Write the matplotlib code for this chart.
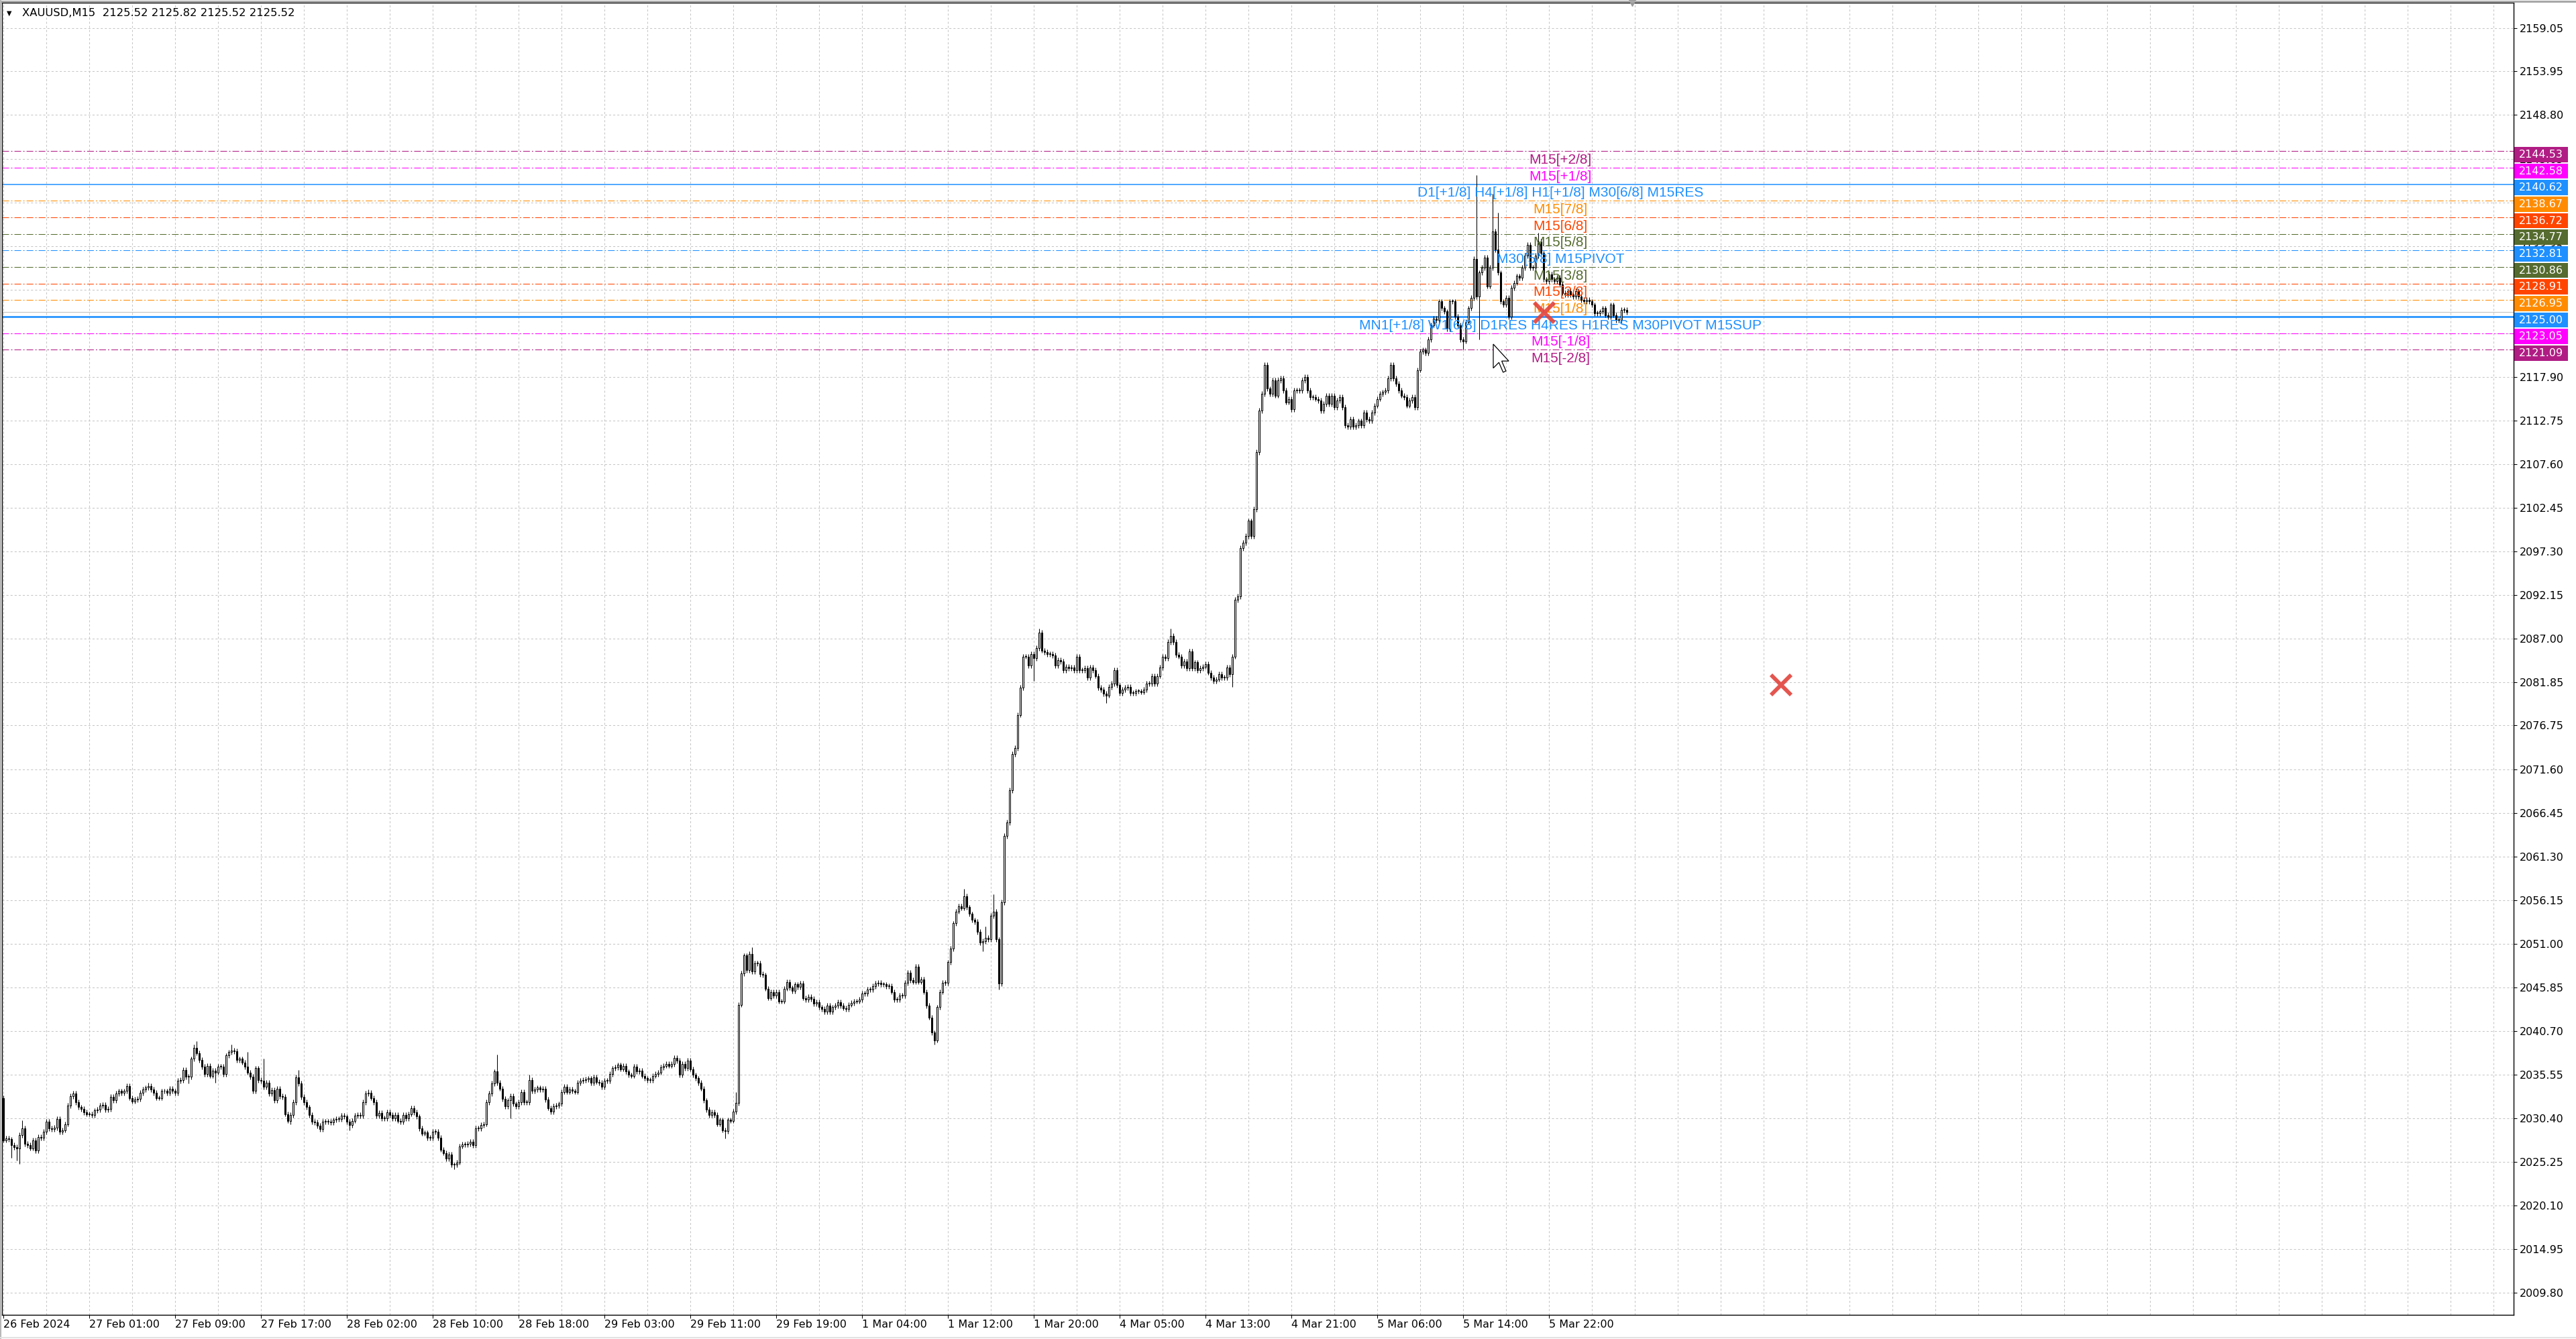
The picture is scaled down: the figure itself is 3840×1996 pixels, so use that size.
import numpy as np
import matplotlib
matplotlib.use('Agg')
import matplotlib.pyplot as plt
from matplotlib.patches import Rectangle, Polygon
from matplotlib.lines import Line2D
from matplotlib.transforms import blended_transform_factory

plt.rcParams['lines.scale_dashes'] = False

W, H = 3840, 1996

# XAUUSD M15 closes, one per bar (26 Feb 17:00 -> 6 Mar)
first_open = 2032.8
closes = [
    2027.8, 2028.0, 2027.9, 2027.2, 2027.0, 2026.8, 2028.4, 2029.2, 2027.4, 2027.2,
    2026.85, 2027.8, 2026.6, 2028.2, 2028.1, 2028.8, 2030.0, 2029.2, 2029.1, 2029.3,
    2030.3, 2028.8, 2029.0, 2029.7, 2031.9, 2033.0, 2033.3, 2032.3, 2031.7, 2031.5,
    2031.1, 2030.9, 2030.9, 2030.8, 2031.3, 2031.4, 2031.9, 2032.0, 2031.4, 2031.5,
    2032.9, 2032.5, 2033.3, 2033.6, 2033.4, 2033.6, 2034.2, 2032.8, 2032.4, 2032.6,
    2032.7, 2033.4, 2033.8, 2034.0, 2034.2, 2033.8, 2033.4, 2032.8, 2032.8, 2033.6,
    2033.6, 2033.4, 2033.9, 2033.6, 2033.4, 2034.8, 2034.9, 2036.1, 2035.3, 2035.3,
    2037.4, 2038.7, 2038.1, 2037.3, 2036.5, 2035.6, 2036.6, 2035.4, 2036.0, 2035.8,
    2036.5, 2036.5, 2035.6, 2037.8, 2038.2, 2038.4, 2038.3, 2037.3, 2037.4, 2037.0,
    2036.5, 2035.8, 2035.3, 2033.6, 2036.3, 2034.9, 2034.8, 2034.1, 2034.6, 2033.3,
    2033.7, 2032.5, 2033.9, 2033.0, 2032.9, 2030.9, 2030.1, 2030.8, 2032.3, 2035.2,
    2034.5, 2032.9, 2032.3, 2031.7, 2030.8, 2030.0, 2029.9, 2029.5, 2029.1, 2030.0,
    2030.0, 2030.0, 2029.9, 2030.2, 2030.3, 2030.3, 2030.7, 2030.6, 2030.0, 2029.6,
    2030.1, 2030.7, 2030.8, 2030.7, 2032.3, 2033.3, 2033.4, 2032.8, 2032.3, 2030.7,
    2031.0, 2030.4, 2030.4, 2031.1, 2030.8, 2030.4, 2030.8, 2030.1, 2030.0, 2030.8,
    2030.4, 2030.9, 2031.6, 2031.1,
    2030.6, 2029.2, 2028.6, 2028.7, 2028.1, 2028.1, 2028.8, 2028.8, 2028.1, 2026.7,
    2026.3, 2025.6, 2026.1, 2024.9, 2024.9, 2025.2, 2027.1, 2027.3, 2027.3, 2027.4,
    2027.6, 2027.2, 2029.2, 2029.2, 2029.6, 2029.7, 2032.3, 2033.3, 2034.5, 2035.9,
    2034.6, 2033.9, 2032.7, 2031.8, 2032.5, 2033.0, 2032.1, 2031.8, 2032.3, 2033.5,
    2032.3, 2032.3, 2034.9, 2033.6, 2033.8, 2034.0, 2033.8, 2033.9, 2032.6, 2031.6,
    2031.2, 2031.8, 2031.9, 2032.1, 2033.5, 2034.1, 2033.5, 2033.8, 2033.6, 2033.5,
    2034.6, 2034.8, 2034.9, 2035.0, 2035.1, 2034.6, 2035.2, 2034.7, 2034.6, 2034.1,
    2034.8, 2034.8, 2035.6, 2036.3, 2036.4,
    2036.7, 2036.2, 2036.6, 2035.9, 2035.5, 2035.4, 2036.5, 2035.9, 2036.0, 2035.4,
    2035.1, 2034.9, 2034.9, 2035.4, 2035.6, 2035.8, 2036.4, 2036.6, 2036.8, 2036.6,
    2036.8, 2037.5, 2037.2, 2035.5, 2036.8, 2036.3, 2037.2, 2036.2, 2035.5, 2035.1,
    2034.6, 2033.9, 2032.5, 2031.4, 2030.8, 2031.1, 2030.8, 2029.7, 2030.2, 2029.0,
    2028.9, 2030.2, 2030.1, 2031.2, 2032.2, 2043.8, 2047.5, 2049.6, 2047.9, 2049.8,
    2047.7, 2048.7, 2048.7, 2047.4, 2047.3, 2045.7, 2044.6, 2045.3, 2044.9, 2045.3,
    2044.2, 2044.2, 2045.7, 2046.5, 2045.8, 2045.4, 2046.2, 2045.9, 2046.3, 2044.6,
    2044.4, 2044.7, 2044.5, 2043.9, 2044.1,
    2043.5, 2043.3, 2043.0, 2043.7, 2043.0, 2043.5, 2043.7, 2044.1, 2043.7, 2043.4,
    2043.3, 2043.8, 2044.0, 2044.2, 2044.2, 2044.4, 2045.1, 2045.1, 2045.6, 2045.6,
    2046.0, 2046.3, 2046.4, 2046.2, 2046.2, 2046.0, 2046.0, 2045.3, 2044.4, 2044.4,
    2044.9, 2044.9, 2046.4, 2047.6, 2046.7, 2046.5, 2048.3, 2046.5, 2046.8, 2045.3,
    2043.7, 2042.3, 2040.5, 2039.6, 2043.5, 2045.3, 2046.4, 2046.4, 2048.8, 2050.4,
    2053.4, 2054.8, 2055.4, 2055.2, 2056.6, 2055.3, 2054.5, 2053.8, 2053.6, 2052.4,
    2051.1, 2051.3, 2051.7, 2051.5, 2054.3, 2054.8, 2051.5, 2046.3, 2055.9, 2063.7,
    2065.3, 2069.1, 2073.4, 2074.1, 2078.0, 2081.2, 2084.9, 2084.9, 2083.8, 2085.2,
    2084.7, 2085.9, 2087.7, 2085.6, 2085.4, 2085.2, 2085.2, 2085.0, 2083.8, 2084.5,
    2084.3, 2083.3, 2083.7, 2083.5, 2083.6, 2083.3, 2084.9, 2083.3, 2083.3, 2083.5,
    2082.4, 2083.6, 2083.3, 2082.6, 2081.2, 2081.0, 2080.5, 2080.3, 2081.3, 2081.7,
    2083.3, 2081.5, 2080.6, 2081.0, 2081.2, 2081.3, 2080.6, 2080.6, 2080.8, 2080.8,
    2080.7, 2081.0, 2081.7, 2081.7, 2082.6, 2081.7, 2082.6, 2083.6, 2084.9, 2084.7,
    2086.6, 2087.3, 2086.6, 2085.1, 2084.9, 2083.8, 2084.3, 2083.5, 2085.5, 2083.5,
    2084.2, 2083.3, 2083.5, 2083.7, 2084.0, 2083.0, 2082.4, 2082.0, 2082.2, 2082.8,
    2082.4, 2082.4, 2083.6, 2082.8, 2084.9,
    2091.6, 2092.0, 2097.7, 2098.3, 2099.1, 2100.9, 2099.1, 2102.3, 2109.0, 2113.9,
    2115.9, 2119.3, 2116.5, 2115.9, 2117.5, 2115.7, 2117.5, 2117.7, 2116.3, 2114.9,
    2115.3, 2114.1, 2116.3, 2116.3,
    2116.3, 2117.5, 2117.9, 2116.3, 2115.5, 2115.5, 2115.3, 2115.1, 2113.9, 2114.7,
    2115.7, 2114.7, 2115.7, 2114.3, 2115.1, 2115.5, 2114.3, 2112.2, 2112.0, 2112.9,
    2112.0, 2112.2,
    2112.7, 2112.2, 2113.7, 2112.9, 2112.7, 2113.7, 2114.5, 2115.3, 2115.9, 2116.1,
    2116.3, 2117.7, 2119.3, 2117.7, 2117.1, 2116.3, 2115.7, 2115.5, 2114.5, 2115.1,
    2115.5, 2114.3, 2118.7, 2120.9, 2121.1, 2120.7, 2122.3, 2124.0, 2124.8, 2124.6,
    2126.8, 2126.0, 2125.6, 2123.6, 2126.8, 2126.8, 2125.0, 2124.0, 2122.3, 2122.1,
    2124.4, 2126.0, 2127.2, 2131.8, 2127.4, 2130.2, 2130.8, 2132.0, 2128.6, 2130.8,
    2135.1, 2132.9, 2130.2, 2126.8, 2126.4, 2127.2, 2125.0, 2128.4, 2129.0, 2129.8,
    2129.6, 2130.8, 2132.2, 2133.5, 2130.8, 2130.8, 2132.2, 2133.9, 2132.5, 2129.4,
    2129.2, 2130.0, 2129.4, 2129.2, 2129.6, 2128.8, 2127.8, 2127.6, 2128.0, 2127.6,
    2127.4, 2128.0, 2127.4, 2127.0, 2126.8, 2127.0, 2126.8, 2126.4, 2125.4, 2125.4,
    2125.6, 2126.0, 2125.2, 2125.0, 2126.4, 2125.2, 2124.6, 2124.6, 2125.8, 2125.8,
    2125.52,
]

# bars with long wicks (bar index -> price)
spike_high = {7: 2030.15, 26: 2033.6, 46: 2034.5, 54: 2034.6, 71: 2039.1, 72: 2039.5,
              85: 2039.1, 91: 2038.2, 97: 2037.4, 110: 2036.1, 136: 2033.8, 184: 2037.9,
              196: 2035.5, 273: 2033.5, 279: 2050.6, 358: 2057.5, 366: 2053.0,
              369: 2056.8, 386: 2088.2, 435: 2088.2, 549: 2141.7, 555: 2139.5,
              557: 2137.3, 572: 2134.9, 605: 2125.82}
spike_low = {3: 2025.7, 5: 2025.4, 6: 2025.0, 69: 2034.5, 79: 2034.6, 107: 2029.7,
             118: 2028.8, 129: 2029.0, 168: 2024.4, 189: 2030.4, 269: 2028.0,
             347: 2039.1, 365: 2050.1, 371: 2045.6, 384: 2082.0, 411: 2079.4,
             458: 2081.3, 468: 2112.7, 544: 2121.1, 550: 2122.3}

time_labels = ['26 Feb 2024', '27 Feb 01:00', '27 Feb 09:00', '27 Feb 17:00',
               '28 Feb 02:00', '28 Feb 10:00', '28 Feb 18:00', '29 Feb 03:00',
               '29 Feb 11:00', '29 Feb 19:00', '1 Mar 04:00', '1 Mar 12:00',
               '1 Mar 20:00', '4 Mar 05:00', '4 Mar 13:00', '4 Mar 21:00',
               '5 Mar 06:00', '5 Mar 14:00', '5 Mar 22:00']

price_ticks = [2159.05, 2153.95, 2148.80, 2143.65, 2138.50, 2133.35, 2128.20, 2123.05,
               2117.90, 2112.75, 2107.60, 2102.45, 2097.30, 2092.15, 2087.00, 2081.85,
               2076.75, 2071.60, 2066.45, 2061.30, 2056.15, 2051.00, 2045.85, 2040.70,
               2035.55, 2030.40, 2025.25, 2020.10, 2014.95, 2009.80]

# Murrey math levels drawn by the indicator
levels = [2144.53, 2142.58, 2140.62, 2138.67, 2136.72, 2134.77, 2132.81,
          2130.86, 2128.91, 2126.95, 2125.00, 2123.05, 2121.09]
level_texts = ['M15[+2/8]', 'M15[+1/8]', 'D1[+1/8] H4[+1/8] H1[+1/8] M30[6/8] M15RES',
               'M15[7/8]', 'M15[6/8]', 'M15[5/8]', 'M30[5/8] M15PIVOT', 'M15[3/8]',
               'M15[2/8]', 'M15[1/8]', 'MN1[+1/8] W1[6/8] D1RES H4RES H1RES M30PIVOT M15SUP',
               'M15[-1/8]', 'M15[-2/8]']

# red close markers
cross_bars = [574.3, 662.5]
cross_prices = [2125.48, 2081.53]

# colours / styles
PURPLE, MAGENTA, BLUE = '#B01C84', '#FF00FF', '#1E90FF'
ORANGE, ORED, OLIVE = '#FF8C00', '#FF4500', '#556B2F'
level_colors = [PURPLE, MAGENTA, BLUE, ORANGE, ORED, OLIVE, BLUE,
                OLIVE, ORED, ORANGE, BLUE, MAGENTA, PURPLE]
solid_width = {2: 1.1, 10: 1.9}

fig = plt.figure(figsize=(W / 100, H / 100), dpi=100)
fig.patch.set_facecolor('white')
ax = fig.add_axes([3 / W, 36 / H, 3744 / W, 1956 / H])

c = np.array(closes)
o = np.r_[first_open, c[:-1]]
x = np.arange(len(c))
hi = np.maximum(o, c) + 0.3
lo = np.minimum(o, c) - 0.3
for k, v in spike_high.items():
    hi[k] = max(hi[k], v)
for k, v in spike_low.items():
    lo[k] = min(lo[k], v)

ax.vlines(x, lo, hi, color='black', lw=0.75, zorder=3)
body_h = np.maximum(np.abs(c - o), 0.07)
body_col = np.where(c >= o, 'white', 'black')
ax.bar(x, body_h, bottom=np.minimum(o, c), width=0.5, color=body_col,
       edgecolor='black', linewidth=0.75, zorder=4)

# bid line
ax.axhline(closes[-1], color='#C0C0C0', lw=0.75, zorder=2)

blend = blended_transform_factory(fig.transFigure, ax.transData)
label_x = 580.25
for i, (lv, txt, col) in enumerate(zip(levels, level_texts, level_colors)):
    if i in solid_width:
        ax.axhline(lv, color=col, lw=solid_width[i], zorder=2)
    else:
        ax.axhline(lv, color=col, lw=0.75, dashes=(7.2, 2.2, 1.4, 2.2), zorder=2)
    ax.annotate(txt, (label_x, lv), xytext=(0, -2.5), textcoords='offset points',
                ha='center', va='top', color=col, fontsize=15,
                family='Liberation Sans', zorder=6)
    # price tag sits a few pixels below its line, as in the terminal
    yc = lv - 0.4
    ax.add_patch(Rectangle((3748 / W, yc - 0.9), 80 / W, 1.8, transform=blend,
                           facecolor=col, edgecolor='none', clip_on=False, zorder=7))
    ax.text(3788 / W, yc, f'{lv:.2f}', transform=blend, ha='center', va='center',
            color='white', fontsize=11.5, clip_on=False, zorder=8)

ax.plot(cross_bars, cross_prices, ls='none', marker='x', ms=21, mew=4.2,
        color='#E2423C', alpha=0.9, zorder=9)

# axes, ticks, grid
ax.set_xlim(-0.5, 935.5)
ax.set_ylim(2007.19, 2162.06)
ax.yaxis.tick_right()
ax.set_yticks(price_ticks)
ax.set_yticklabels([f'{v:.2f}' for v in price_ticks])
ax.set_xticks(np.arange(len(time_labels)) * 32)
ax.set_xticklabels(time_labels, ha='left')
ax.set_xticks(np.arange(0, 936, 16), minor=True)
ax.tick_params(axis='y', direction='out', length=3.6, width=0.75, pad=2.5,
               labelsize=11.5, colors='black')
ax.tick_params(axis='x', which='major', direction='out', length=3.6, width=0.75,
               pad=1.5, labelsize=11.5)
ax.tick_params(axis='x', which='minor', length=0)
ax.set_axisbelow(True)
ax.grid(True, which='both', axis='x', color='#C6C6C6', lw=0.75, linestyle=(0, (2.2, 2.2)))
ax.grid(True, which='major', axis='y', color='#C6C6C6', lw=0.75, linestyle=(0, (2.2, 2.2)))
for s in ax.spines.values():
    s.set_linewidth(1.0)
    s.set_color('black')

# chart shift marker on the top edge
ax.plot([607], [1.0], transform=blended_transform_factory(ax.transData, ax.transAxes),
        marker='v', ms=7, color='#9A9A9A', clip_on=False, zorder=10)

# mouse cursor
cur = np.array([(0, 0), (0, 17), (4, 13), (7, 20), (9, 19), (6, 12), (11, 12)]) * 2.1
cur = (cur + [2226, 513]) / 100.0
cur[:, 1] = H / 100.0 - cur[:, 1]
fig.add_artist(Polygon(cur, closed=True, facecolor='white', edgecolor='black',
                       lw=0.9, transform=fig.dpi_scale_trans, zorder=20))

# title
fig.text(10 / W, 1 - 20 / H, '\u25BC', fontsize=7, va='center', ha='left')
fig.text(33 / W, 1 - 20 / H, 'XAUUSD,M15  2125.52 2125.82 2125.52 2125.52',
         fontsize=11.8, va='center', ha='left')

# window frame
fig.add_artist(Line2D([0, 1], [1 - 1.5 / H] * 2, color='#A8A8A8', lw=2.2,
                      transform=fig.transFigure))
fig.add_artist(Line2D([1 / W] * 2, [0, 1], color='#B8B8B8', lw=1.5,
                      transform=fig.transFigure))
fig.add_artist(Line2D([0, 1], [2.5 / H] * 2, color='#E2E2E2', lw=1.5,
                      transform=fig.transFigure))

fig.savefig('out.png', dpi=100, facecolor='white')
